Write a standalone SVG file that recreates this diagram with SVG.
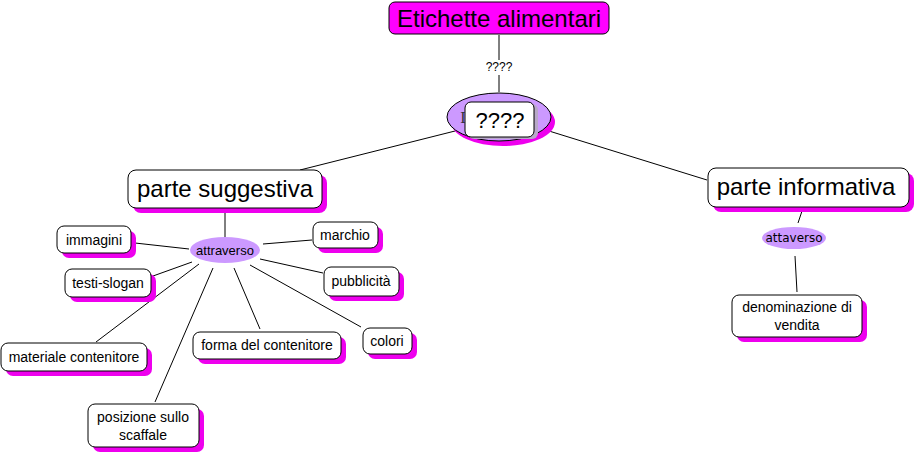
<svg xmlns="http://www.w3.org/2000/svg" width="916" height="454" viewBox="0 0 916 454">
<style>
text{font-family:"Liberation Sans",Arial,sans-serif;fill:#000;text-anchor:middle}
.sh{fill:#ee00ee}
.box{fill:#fff;stroke:#000;stroke-width:1}
.ell{fill:#cc99ff}
.ln{stroke:#000;stroke-width:1;fill:none}
.t13{font-size:14px}
.big{font-size:24px}
</style>
<rect width="916" height="454" fill="#fff"/>
<g id="connectors">
<line class="ln" x1="499" y1="35" x2="499" y2="60"/>
<line class="ln" x1="499" y1="75" x2="499" y2="92"/>
<line class="ln" x1="455" y1="131" x2="300" y2="170"/>
<line class="ln" x1="549" y1="131" x2="707" y2="180"/>
<line class="ln" x1="225" y1="208" x2="225" y2="237"/>
<line class="ln" x1="135" y1="243" x2="189" y2="249"/>
<line class="ln" x1="263" y1="244" x2="312" y2="240"/>
<line class="ln" x1="153" y1="276" x2="192" y2="262"/>
<line class="ln" x1="260" y1="259" x2="323" y2="273"/>
<line class="ln" x1="96" y1="342" x2="199" y2="264"/>
<line class="ln" x1="155" y1="402" x2="213" y2="268"/>
<line class="ln" x1="260" y1="329" x2="234" y2="268"/>
<line class="ln" x1="361" y1="327" x2="250" y2="265"/>
<line class="ln" x1="802" y1="211" x2="798" y2="223"/>
<line class="ln" x1="795" y1="256" x2="797" y2="292"/>
<text x="499" y="71" style="font-size:12px">????</text>
</g>
<g id="title">
<rect x="389" y="2" width="220" height="32" rx="6" fill="#ff00ff" stroke="#000"/>
<text x="499" y="27" class="big">Etichette alimentari</text>
</g>
<g id="center">
<ellipse cx="503" cy="122" rx="52" ry="24" class="sh"/>
<ellipse cx="499" cy="117" rx="52" ry="24" class="ell" stroke="#000"/>
<text x="463" y="123" style="font-family:'Liberation Serif',serif;font-size:16px;fill:#333">I</text>
<rect x="468" y="104" width="70" height="35" rx="6" fill="#b8a8c8"/>
<rect x="465" y="102" width="69" height="35" rx="6" class="box"/>
<text x="500" y="128" style="font-size:22px">????</text>
</g>
<g id="suggestiva">
<rect x="133" y="175" width="194" height="38" rx="8" class="sh"/>
<rect x="128" y="170" width="194" height="38" rx="8" class="box"/>
<text x="225" y="197" class="big">parte suggestiva</text>
</g>
<g id="informativa">
<rect x="713" y="173" width="201" height="39" rx="8" class="sh"/>
<rect x="708" y="168" width="201" height="39" rx="8" class="box"/>
<text x="806" y="195" class="big">parte informativa</text>
</g>
<g id="attraverso">
<ellipse cx="225" cy="250" rx="35" ry="13" class="ell"/>
<text x="225" y="255" style="font-size:13px">attraverso</text>
</g>
<g id="immagini">
<rect x="62" y="231" width="74" height="27" rx="7" class="sh"/>
<rect x="57" y="226" width="74" height="27" rx="7" class="box"/>
<text x="94" y="245" class="t13">immagini</text>
</g>
<g id="testi-slogan">
<rect x="70" y="274" width="86" height="28" rx="7" class="sh"/>
<rect x="65" y="269" width="86" height="28" rx="7" class="box"/>
<text x="108" y="288" class="t13">testi-slogan</text>
</g>
<g id="marchio">
<rect x="318" y="227" width="65" height="26" rx="7" class="sh"/>
<rect x="313" y="222" width="65" height="26" rx="7" class="box"/>
<text x="345" y="240" class="t13">marchio</text>
</g>
<g id="pubblicita">
<rect x="329" y="272" width="75" height="29" rx="7" class="sh"/>
<rect x="324" y="267" width="75" height="29" rx="7" class="box"/>
<text x="361" y="286" class="t13">pubblicità</text>
</g>
<g id="materiale">
<rect x="6" y="348" width="146" height="28" rx="7" class="sh"/>
<rect x="1" y="343" width="146" height="28" rx="7" class="box"/>
<text x="74" y="362" class="t13">materiale contenitore</text>
</g>
<g id="forma">
<rect x="198" y="337" width="148" height="27" rx="7" class="sh"/>
<rect x="193" y="332" width="148" height="27" rx="7" class="box"/>
<text x="267" y="350" class="t13">forma del contenitore</text>
</g>
<g id="colori">
<rect x="368" y="333" width="49" height="26" rx="7" class="sh"/>
<rect x="363" y="328" width="49" height="26" rx="7" class="box"/>
<text x="387" y="346" class="t13">colori</text>
</g>
<g id="posizione">
<rect x="93" y="409" width="111" height="43" rx="7" class="sh"/>
<rect x="88" y="404" width="111" height="43" rx="7" class="box"/>
<text x="143" y="422" class="t13">posizione sullo</text>
<text x="143" y="440" class="t13">scaffale</text>
</g>
<g id="attaverso">
<ellipse cx="794" cy="238" rx="32" ry="11" class="ell"/>
<text x="794" y="242" style="font-family:'DejaVu Sans',sans-serif;font-size:12px">attaverso</text>
</g>
<g id="denominazione">
<rect x="737" y="300" width="130" height="42" rx="7" class="sh"/>
<rect x="732" y="295" width="130" height="42" rx="7" class="box"/>
<text x="797" y="312" class="t13">denominazione di</text>
<text x="797" y="330" class="t13">vendita</text>
</g>
</svg>
